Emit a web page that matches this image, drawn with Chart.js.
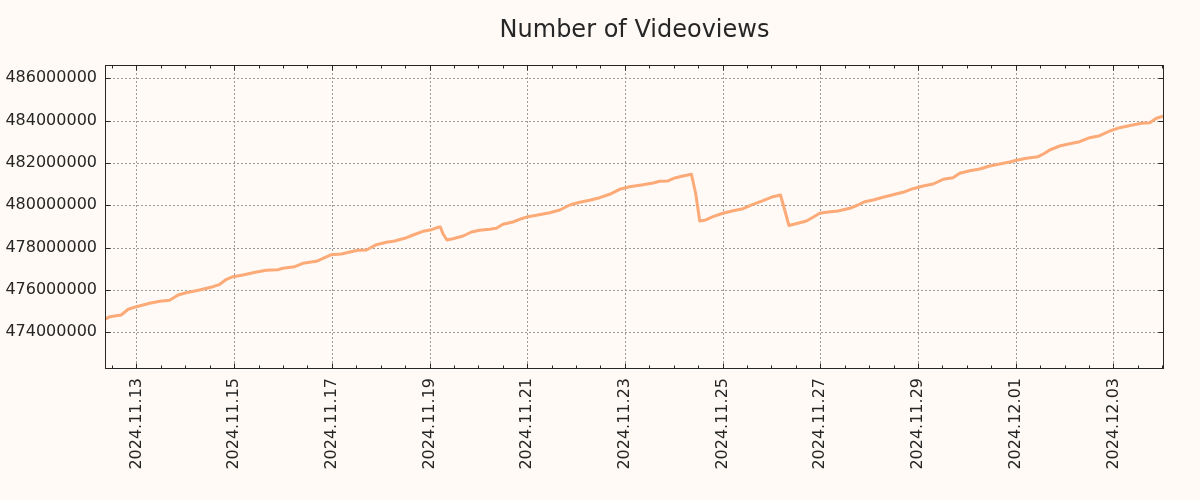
<!DOCTYPE html>
<html>
<head>
<meta charset="utf-8">
<script src="https://cdn.jsdelivr.net/npm/chart.js@4.4.1/dist/chart.umd.min.js"></script>
<style>
  html, body { margin: 0; padding: 0; background: #fffaf5; }
  #wrap { width: 1200px; height: 500px; }
</style>
</head>
<body>
<div id="wrap"><canvas id="c" width="1200" height="500"></canvas></div>
<script>
const chartTitle = 'Number of Videoviews';

const times = [
  '2024-11-12 08:35','2024-11-12 11:00','2024-11-12 16:30','2024-11-12 20:00','2024-11-13 00:00',
  '2024-11-13 06:30','2024-11-13 11:30','2024-11-13 16:20','2024-11-13 20:30','2024-11-14 00:30',
  '2024-11-14 07:00','2024-11-14 13:40','2024-11-14 17:00','2024-11-14 20:15','2024-11-14 23:30',
  '2024-11-15 04:20','2024-11-15 11:00','2024-11-15 15:50','2024-11-15 21:30','2024-11-16 00:00',
  '2024-11-16 05:45','2024-11-16 09:50','2024-11-16 16:25','2024-11-16 20:30','2024-11-16 23:50',
  '2024-11-17 04:45','2024-11-17 08:50','2024-11-17 12:50','2024-11-17 17:00','2024-11-17 21:55',
  '2024-11-18 02:50','2024-11-18 06:55','2024-11-18 11:50','2024-11-18 15:55','2024-11-18 20:50',
  '2024-11-19 01:00','2024-11-19 04:10','2024-11-19 05:20','2024-11-19 06:40','2024-11-19 08:35',
  '2024-11-19 11:30','2024-11-19 16:30','2024-11-19 20:35','2024-11-20 00:40','2024-11-20 05:35',
  '2024-11-20 08:50','2024-11-20 12:05','2024-11-20 17:00','2024-11-20 21:10','2024-11-21 00:25',
  '2024-11-21 04:30','2024-11-21 11:05','2024-11-21 16:00','2024-11-21 20:55','2024-11-22 01:50',
  '2024-11-22 06:40','2024-11-22 11:35','2024-11-22 16:30','2024-11-22 21:25','2024-11-23 02:20',
  '2024-11-23 08:55','2024-11-23 13:50','2024-11-23 17:05','2024-11-23 21:10','2024-11-24 00:30',
  '2024-11-24 04:30','2024-11-24 08:40','2024-11-24 10:45','2024-11-24 12:45','2024-11-24 15:10',
  '2024-11-24 19:15','2024-11-25 00:10','2024-11-25 05:05','2024-11-25 10:00','2024-11-25 14:55',
  '2024-11-25 19:50','2024-11-26 00:45','2024-11-26 04:25','2024-11-26 06:30','2024-11-26 08:35',
  '2024-11-26 13:55','2024-11-26 17:10','2024-11-26 20:25','2024-11-26 23:40','2024-11-27 03:50',
  '2024-11-27 08:40','2024-11-27 14:25','2024-11-27 18:30','2024-11-27 21:50','2024-11-28 01:55',
  '2024-11-28 06:50','2024-11-28 11:40','2024-11-28 16:35','2024-11-28 21:30','2024-11-29 02:30',
  '2024-11-29 07:25','2024-11-29 12:20','2024-11-29 17:10','2024-11-29 20:30','2024-11-30 01:25',
  '2024-11-30 06:20','2024-11-30 11:10','2024-11-30 16:05','2024-11-30 21:00','2024-12-01 00:20',
  '2024-12-01 05:15','2024-12-01 11:00','2024-12-01 14:15','2024-12-01 16:40','2024-12-01 21:35',
  '2024-12-02 02:30','2024-12-02 07:25','2024-12-02 12:20','2024-12-02 17:15','2024-12-02 22:10',
  '2024-12-03 03:05','2024-12-03 08:50','2024-12-03 13:45','2024-12-03 17:50','2024-12-03 21:05',
  '2024-12-04 00:50'
];

const views = [
  474615000,474737000,474818000,475087000,475210000,
  475370000,475465000,475512000,475762000,475871000,
  475999000,476155000,476268000,476504000,476627000,
  476707000,476849000,476929000,476958000,477024000,
  477099000,477260000,477355000,477525000,477666000,
  477699000,477794000,477874000,477888000,478139000,
  478252000,478314000,478441000,478597000,478772000,
  478847000,478961000,478975000,478644000,478361000,
  478422000,478550000,478739000,478819000,478866000,
  478914000,479103000,479211000,479367000,479462000,
  479528000,479651000,479778000,480014000,480142000,
  480236000,480359000,480520000,480756000,480879000,
  480973000,481054000,481134000,481148000,481290000,
  481384000,481465000,480567000,479259000,479291000,
  479462000,479622000,479745000,479840000,480047000,
  480217000,480406000,480487000,479778000,479046000,
  479178000,479259000,479433000,479622000,479684000,
  479731000,479858000,480014000,480170000,480250000,
  480378000,480501000,480614000,480784000,480912000,
  481006000,481228000,481304000,481512000,481635000,
  481715000,481857000,481951000,482046000,482126000,
  482221000,482296000,482457000,482613000,482802000,
  482910000,483005000,483194000,483288000,483510000,
  483666000,483780000,483874000,483902000,484110000,
  484219000
];

const xTickLabels = ['2024.11.13','2024.11.15','2024.11.17','2024.11.19','2024.11.21','2024.11.23',
  '2024.11.25','2024.11.27','2024.11.29','2024.12.01','2024.12.03'];
const yTicks = [474000000,476000000,478000000,480000000,482000000,484000000,486000000];
const yMin = 472266000, yMax = 486628000;

function toMs(s) {
  const [d, t] = s.split(' ');
  const [Y, M, D] = d.split('-').map(Number);
  const [h, m] = t.split(':').map(Number);
  return Date.UTC(Y, M - 1, D, h, m);
}
function labelToMs(l) {
  const [Y, M, D] = l.split('.').map(Number);
  return Date.UTC(Y, M - 1, D);
}

const points = times.map((t, i) => ({ x: toMs(t), y: views[i] }));
const xMin = toMs(times[0]);
const xMax = toMs(times[times.length - 1]);
const HALF_DAY = 12 * 3600 * 1000;
const majorMap = new Map(xTickLabels.map(l => [labelToMs(l), l]));

const BG = '#fffaf5';
const INK = '#262626';
const GRID = '#9a9a9a';
const FONT = "'DejaVu Sans', sans-serif";

const decor = {
  id: 'decor',
  beforeDraw(chart) {
    const ctx = chart.ctx;
    ctx.save();
    ctx.fillStyle = BG;
    ctx.fillRect(0, 0, chart.width, chart.height);
    ctx.restore();
  },
  beforeDatasetsDraw(chart) {
    const { ctx, chartArea: a, scales: { x, y } } = chart;
    ctx.save();
    ctx.strokeStyle = GRID;
    ctx.lineWidth = 1;
    ctx.setLineDash([2, 2]);
    x.ticks.forEach(t => {
      if (!majorMap.has(t.value)) return;
      const px = Math.round(x.getPixelForValue(t.value)) + 0.5;
      ctx.beginPath(); ctx.moveTo(px, a.top); ctx.lineTo(px, a.bottom); ctx.stroke();
    });
    yTicks.forEach(v => {
      const py = Math.round(y.getPixelForValue(v)) + 0.5;
      ctx.beginPath(); ctx.moveTo(a.left, py); ctx.lineTo(a.right, py); ctx.stroke();
    });
    ctx.restore();
  },
  afterDatasetsDraw(chart) {
    const { ctx, chartArea: a, scales: { x, y } } = chart;
    ctx.save();
    ctx.strokeStyle = INK;
    ctx.lineWidth = 1;
    ctx.setLineDash([]);
    const L = Math.round(a.left) + 0.5, R = Math.round(a.right) - 0.5;
    const T = Math.round(a.top) + 0.5, B = Math.round(a.bottom) - 0.5;
    ctx.strokeRect(L, T, R - L, B - T);
    ctx.beginPath();
    x.ticks.forEach(t => {
      const len = majorMap.has(t.value) ? 5 : 3;
      const px = Math.round(x.getPixelForValue(t.value)) + 0.5;
      ctx.moveTo(px, B); ctx.lineTo(px, B - len);
      ctx.moveTo(px, T); ctx.lineTo(px, T + len);
    });
    yTicks.forEach(v => {
      const py = Math.round(y.getPixelForValue(v)) + 0.5;
      ctx.moveTo(L, py); ctx.lineTo(L + 5, py);
      ctx.moveTo(R, py); ctx.lineTo(R - 5, py);
    });
    ctx.stroke();
    // title centred over the plot area
    ctx.fillStyle = INK;
    ctx.font = '24px ' + FONT;
    ctx.textAlign = 'center';
    ctx.textBaseline = 'middle';
    ctx.fillText(chartTitle, (a.left + a.right) / 2, 31);
    ctx.restore();
  }
};

Chart.defaults.font.family = FONT;
Chart.defaults.color = INK;

new Chart(document.getElementById('c'), {
  type: 'line',
  data: {
    datasets: [{
      data: points,
      borderColor: '#fcaa78',
      borderWidth: 3,
      pointRadius: 0,
      tension: 0,
      fill: false,
      borderJoinStyle: 'round',
      borderCapStyle: 'round'
    }]
  },
  options: {
    responsive: false,
    animation: false,
    events: [],
    layout: { padding: { left: 0, right: 36, top: 65, bottom: 0 } },
    plugins: {
      legend: { display: false },
      tooltip: { enabled: false },
      title: { display: false }
    },
    scales: {
      x: {
        type: 'linear',
        min: xMin,
        max: xMax,
        grid: { display: false, drawTicks: false },
        border: { display: false },
        afterBuildTicks(scale) {
          const ticks = [];
          let t = Math.ceil(xMin / HALF_DAY) * HALF_DAY;
          for (; t <= xMax; t += HALF_DAY) ticks.push({ value: t });
          scale.ticks = ticks;
        },
        afterFit(scale) { scale.height = 131; },
        ticks: {
          autoSkip: false,
          maxRotation: 90,
          minRotation: 90,
          padding: 9,
          font: { size: 16 },
          color: INK,
          callback: (v) => majorMap.get(v) || ''
        }
      },
      y: {
        type: 'linear',
        min: yMin,
        max: yMax,
        grid: { display: false, drawTicks: false },
        border: { display: false },
        afterBuildTicks(scale) { scale.ticks = yTicks.map(v => ({ value: v })); },
        afterFit(scale) { scale.width = 105; },
        ticks: {
          padding: 8,
          font: { size: 16 },
          color: INK,
          callback: (v) => String(v)
        }
      }
    }
  },
  plugins: [decor]
});
</script>
</body>
</html>
